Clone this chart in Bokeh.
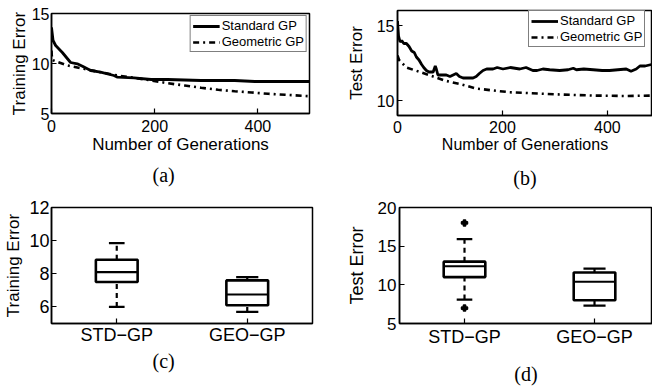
from bokeh.plotting import figure
from bokeh.layouts import row, column
from bokeh.models import FixedTicker, Title, Legend, LegendItem, LinearAxis
from bokeh.embed import file_html
from bokeh.resources import INLINE

# ---------------- data ----------------
gen_train_std = [0, 3, 8, 21, 37, 50, 60, 76, 95, 121, 128, 160, 193, 225, 290, 355, 394, 500]
train_std = [13.6, 12.3, 11.8, 11.1, 10.1, 9.97, 9.73, 9.3, 9.13, 8.8, 8.63, 8.57, 8.4, 8.4, 8.3, 8.3, 8.2, 8.2]
gen_train_geo = [0, 1, 4, 31, 63, 95, 128, 160, 193, 225, 258, 290, 323, 355, 388, 420, 453, 500]
train_geo = [11.3, 10.4, 10.3, 9.8, 9.47, 9.13, 8.8, 8.57, 8.3, 8.03, 7.8, 7.57, 7.37, 7.23, 7.1, 6.97, 6.87, 6.73]

gen_test_std = [0, 2, 5, 8, 12, 17, 22, 27, 32, 36, 41, 46, 50, 55, 60, 68, 72, 74, 77, 85, 93, 100,
                112, 118, 125, 135, 144, 150, 156, 163, 170, 182, 190, 201, 215, 233, 245, 258,
                266, 277, 290, 309, 325, 335, 341, 355, 373, 390, 404, 420, 436, 445, 455, 462,
                472, 484, 500]
test_std = [15.3, 14.3, 13.9, 14.0, 13.8, 13.8, 13.6, 13.3, 13.2, 12.9, 12.7, 12.4, 12.2, 12.0, 11.9, 11.9,
            12.3, 12.1, 11.7, 11.7, 11.7, 11.6, 11.8, 11.6, 11.5, 11.5, 11.5, 11.6, 11.8, 12.0, 12.1, 12.1,
            12.2, 12.1, 12.2, 12.1, 12.2, 12.0, 12.0, 12.1, 12.05, 12.0, 12.05, 12.15, 12.05, 12.1, 12.05,
            12.0, 12.0, 12.05, 12.1, 11.95, 12.1, 12.3, 12.3, 12.4, 12.4]
gen_test_geo = [0, 3, 17, 43, 68, 93, 119, 150, 182, 214, 246, 309, 373, 436, 484, 500]
test_geo = [13.0, 12.7, 12.2, 11.9, 11.6, 11.3, 11.1, 10.8, 10.67, 10.55, 10.5, 10.4, 10.33, 10.3, 10.33, 10.35]

box_labels = ["STD\u2212GP", "GEO\u2212GP"]
box_pos = [1, 2]
train_q1 = [7.5, 6.1]
train_med = [8.1, 6.75]
train_q3 = [8.85, 7.6]
train_lo = [6.0, 5.7]
train_hi = [9.85, 7.8]
test_q1 = [11.0, 8.0]
test_med = [12.4, 10.4]
test_q3 = [13.0, 11.6]
test_lo = [8.1, 7.3]
test_hi = [15.9, 12.1]
test_out_x = [1, 1]
test_out_y = [18.0, 7.0]

FONT = "Liberation Sans"
SERIF = "Liberation Serif"


def style(p, xticks, yticks, tick_size, ylab_size, ylab_standoff, xlab_size=None, xtick_standoff=6,
          ytick_standoff=3):
    p.xaxis.ticker = FixedTicker(ticks=xticks)
    p.yaxis.ticker = FixedTicker(ticks=yticks)
    p.xgrid.visible = False
    p.ygrid.visible = False
    p.outline_line_color = "black"
    p.outline_line_width = 1.5
    p.outline_line_alpha = 1
    p.background_fill_color = "white"
    p.border_fill_color = "white"
    for ax in p.axis:
        ax.major_tick_in = 5
        ax.major_tick_out = 0
        ax.minor_tick_line_color = None
        ax.axis_line_width = 1.5
        ax.major_tick_line_width = 1.2
        ax.axis_line_color = "black"
        ax.major_tick_line_color = "black"
        ax.major_label_text_color = "black"
        ax.major_label_text_font = FONT
        ax.axis_label_text_font = FONT
        ax.axis_label_text_font_style = "normal"
        ax.axis_label_text_color = "black"
    p.xaxis.major_label_text_font_size = tick_size
    p.xaxis.major_label_standoff = xtick_standoff
    if xlab_size:
        p.xaxis.axis_label_text_font_size = xlab_size
        p.xaxis.axis_label_standoff = 0
    p.yaxis.major_label_text_font_size = tick_size
    p.yaxis.major_label_standoff = ytick_standoff
    p.yaxis.axis_label_text_font_size = ylab_size
    p.yaxis.axis_label_standoff = ylab_standoff


def caption_title(p, text, offset, standoff):
    p.add_layout(Title(text=text, align="left", offset=offset, standoff=standoff,
                       text_font=SERIF, text_font_size="20px", text_font_style="normal",
                       text_color="black"), "below")


def caption_axis(p, text, standoff):
    ax = LinearAxis(ticker=FixedTicker(ticks=[]), axis_label=text, axis_label_standoff=standoff,
                    axis_label_text_font=SERIF, axis_label_text_font_size="20px",
                    axis_label_text_font_style="normal", axis_label_text_color="black",
                    axis_line_color=None, major_tick_line_color=None, minor_tick_line_color=None,
                    major_tick_out=0, major_tick_in=0, major_label_standoff=0)
    p.add_layout(ax, "below")


def make_legend(p, r1, r2, loc):
    leg = Legend(items=[LegendItem(label="Standard GP", renderers=[r1]),
                        LegendItem(label="Geometric GP", renderers=[r2])],
                 location=loc, label_text_font=FONT, label_text_font_size="13px",
                 label_text_color="black", glyph_width=27, glyph_height=12, label_standoff=2,
                 label_height=13, spacing=1, padding=2, margin=2,
                 border_line_color="black", border_line_width=1.2, background_fill_alpha=1)
    p.add_layout(leg)


# ---------------- (a) ----------------
pa = figure(width=326, height=193, x_range=(0, 500), y_range=(5, 15), output_backend="svg",
            toolbar_location=None, min_border_left=51, min_border_right=17, min_border_top=13,
            min_border_bottom=80, x_axis_label="Number of Generations", y_axis_label="Training Error")
ra1 = pa.line(gen_train_std, train_std, line_color="black", line_width=2.8)
ra2 = pa.line(gen_train_geo, train_geo, line_color="black", line_width=2.6, line_dash="6 4 2 4")
style(pa, [0, 200, 400], [5, 10, 15], "16px", "17px", 0, "17px", ytick_standoff=2)
make_legend(pa, ra1, ra2, "top_right")
caption_title(pa, "(a)", 101, 10)

# ---------------- (b) ----------------
pb = figure(width=326, height=193, x_range=(0, 486), y_range=(9, 16), output_backend="svg",
            toolbar_location=None, min_border_left=71, min_border_right=0, min_border_top=10,
            min_border_bottom=78, x_axis_label="Number of Generations", y_axis_label="Test Error")
rb1 = pb.line(gen_test_std, test_std, line_color="black", line_width=2.8)
rb2 = pb.line(gen_test_geo, test_geo, line_color="black", line_width=2.6, line_dash="6 4 2 4")
style(pb, [0, 200, 400], [10, 15], "16px", "17px", 8, "16px", xtick_standoff=5)
make_legend(pb, rb1, rb2, (131, 68))
caption_axis(pb, "(b)", 11)


# ---------------- box plots ----------------
def boxes(p, q1, med, q3, lo, hi):
    bw = 0.16
    cap = [0.06, 0.085]
    left = [x - bw for x in box_pos]
    right = [x + bw for x in box_pos]
    p.segment(box_pos, q3, box_pos, hi, line_color="black", line_width=2.2, line_dash="5 4")
    p.segment(box_pos, lo, box_pos, q1, line_color="black", line_width=2.2, line_dash="5 4")
    p.segment([x - c for x, c in zip(box_pos, cap)], hi, [x + c for x, c in zip(box_pos, cap)], hi,
              line_color="black", line_width=2.2)
    p.segment([x - c for x, c in zip(box_pos, cap)], lo, [x + c for x, c in zip(box_pos, cap)], lo,
              line_color="black", line_width=2.2)
    p.quad(left=left, right=right, bottom=q1, top=q3, fill_color="white", line_color="black",
           line_width=2.6)
    p.segment(left, med, right, med, line_color="black", line_width=2.2)
    p.xaxis.major_label_overrides = {x: l for x, l in zip(box_pos, box_labels)}


pc = figure(width=326, height=196, x_range=(0.5, 2.5), y_range=(5, 12), output_backend="svg",
            toolbar_location=None, min_border_left=51, min_border_right=14, min_border_top=14,
            min_border_bottom=66, y_axis_label="Training Error")
boxes(pc, train_q1, train_med, train_q3, train_lo, train_hi)
style(pc, box_pos, [6, 8, 10, 12], "18px", "17px", 3, xtick_standoff=1, ytick_standoff=2)
caption_title(pc, "(c)", 101, 0)

pd_ = figure(width=326, height=196, x_range=(0.5, 2.446), y_range=(5, 20), output_backend="svg",
             toolbar_location=None, min_border_left=73, min_border_right=0, min_border_top=14,
             min_border_bottom=66, y_axis_label="Test Error", x_axis_label="(d)")
boxes(pd_, test_q1, test_med, test_q3, test_lo, test_hi)
pd_.scatter(test_out_x, test_out_y, marker="plus", size=6, line_color="black", fill_color="black",
            line_width=1.5)
style(pd_, box_pos, [5, 10, 15, 20], "17px", "18px", 8, xtick_standoff=3)
pd_.xaxis.major_label_text_font_size = "18px"
pd_.xaxis.axis_label_text_font = SERIF
pd_.xaxis.axis_label_text_font_size = "20px"
pd_.xaxis.axis_label_standoff = 13

layout = column(row(column(pa), column(pb)), row(column(pc), column(pd_)))

open("out.html", "w").write(file_html(layout, INLINE))
